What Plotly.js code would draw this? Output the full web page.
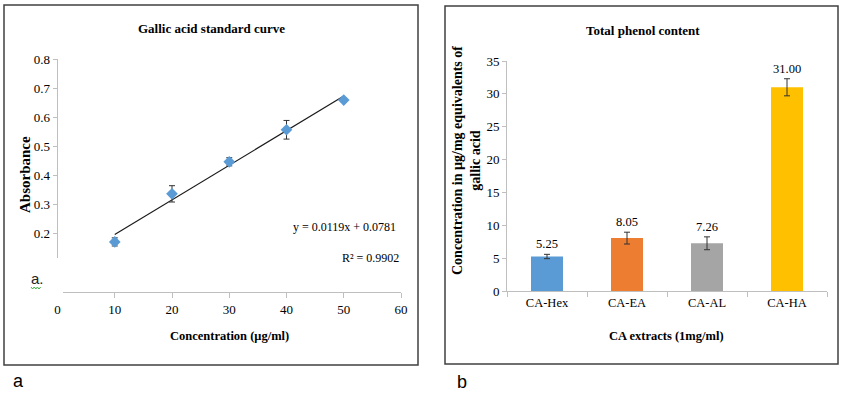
<!DOCTYPE html>
<html>
<head>
<meta charset="utf-8">
<script src="https://cdn.plot.ly/plotly-3.0.1.min.js"></script>
<style>html,body{margin:0;padding:0;background:#fff;}#chart{width:846px;height:396px;}</style>
</head>
<body>
<div id="chart"></div>
<script>
// ---- Data: panel a (Gallic acid standard curve) ----
const concentration = [10, 20, 30, 40, 50];
const absorbance = [0.172, 0.337, 0.447, 0.557, 0.659];
const absorbanceErr = [0.014, 0.028, 0.014, 0.032, 0.006];
const trendSlope = 0.0119;
const trendIntercept = 0.0781;
const trendX = [10, 50];
const equationText = "y = 0.0119x + 0.0781";
const r2Text = "R² = 0.9902";
const absTicks = [0.1, 0.2, 0.3, 0.4, 0.5, 0.6, 0.7, 0.8];

// ---- Data: panel b (Total phenol content) ----
const extracts = ["CA-Hex", "CA-EA", "CA-AL", "CA-HA"];
const phenol = [5.25, 8.05, 7.26, 31.00];
const phenolErr = [0.33, 0.9, 0.98, 1.3];
const barColors = ["#5B9BD5", "#ED7D31", "#A5A5A5", "#FFC000"];

const W = 846, H = 396;
const X = px => px / W;
const Y = py => 1 - py / H;

const serif = "Liberation Serif, Times New Roman, serif";
const sans = "Liberation Sans, Arial, sans-serif";
const axisGray = "#bfbfbf";

const traces = [
  {
    type: "scatter", mode: "lines", xaxis: "x", yaxis: "y",
    x: trendX, y: trendX.map(v => trendSlope * v + trendIntercept),
    line: {color: "#1a1a1a", width: 1.2}, hoverinfo: "skip", showlegend: false
  },
  {
    type: "scatter", mode: "markers", xaxis: "x", yaxis: "y",
    x: concentration, y: absorbance,
    marker: {symbol: "diamond", size: 9, color: "#5B9BD5"},
    error_y: {type: "data", array: absorbanceErr, visible: true, color: "#333", thickness: 1, width: 3},
    showlegend: false
  },
  {
    type: "bar", xaxis: "x2", yaxis: "y2",
    x: extracts, y: phenol, width: 0.4,
    marker: {color: barColors},
    error_y: {type: "data", array: phenolErr, visible: true, color: "#333", thickness: 1, width: 3},
    showlegend: false
  }
];

function pa(px, py, text, font, extra) {
  return Object.assign({xref: "paper", yref: "paper", x: X(px), y: Y(py), xanchor: "center", yanchor: "middle",
    text: text, showarrow: false, font: font}, extra || {});
}
const f = (size) => ({family: serif, size: size, color: "#000"});
const annotations = [
  pa(211, 28, "<b>Gallic acid standard curve</b>", f(13)),
  pa(229, 336, "<b>Concentration (μg/ml)</b>", f(12.5)),
  pa(25, 175, "<b>Absorbance</b>", f(15), {textangle: -90}),
  pa(344, 227, equationText, f(12)),
  pa(370, 258, r2Text, f(12)),
  pa(37, 278, "a.", {family: sans, size: 15, color: "#222"}),
  pa(643, 30, "<b>Total phenol content</b>", f(13)),
  pa(666, 336, "<b>CA extracts (1mg/ml)</b>", f(12.5)),
  pa(467, 160, "<b>Concentration in µg/mg equivalents of<br>gallic acid</b>", f(14), {textangle: -90}),
  pa(18, 381, "a", {family: sans, size: 18, color: "#000"}),
  pa(462, 382, "b", {family: sans, size: 18, color: "#000"})
];
extracts.forEach((c, i) => {
  annotations.push({
    xref: "x2", yref: "y2", x: c, y: phenol[i] + phenolErr[i], yshift: 10,
    xanchor: "center", yanchor: "middle",
    text: phenol[i].toFixed(2), showarrow: false,
    font: f(12.5)
  });
});

const sq = [];
for (let i = 0; i <= 6; i++) sq.push((i ? "L" : "M") + X(31 + i * 1.6) + "," + Y(i % 2 ? 289 : 287));

const shapes = [
  {type: "rect", xref: "paper", yref: "paper", x0: X(8), x1: X(63), y0: Y(258), y1: Y(298), fillcolor: "#fff", line: {width: 0}, layer: "above"},
  {type: "path", xref: "paper", yref: "paper", path: sq.join(" "), line: {color: "#3cb043", width: 1}, layer: "above"},
  {type: "rect", xref: "paper", yref: "paper", x0: X(4), x1: X(418), y0: Y(5), y1: Y(365), line: {color: "#404040", width: 1.5}, layer: "above"},
  {type: "rect", xref: "paper", yref: "paper", x0: X(445), x1: X(838), y0: Y(6), y1: Y(364), line: {color: "#404040", width: 1.5}, layer: "above"}
];

const tickFont = f(13);
const layout = {
  width: W, height: H,
  margin: {l: 0, r: 0, t: 0, b: 0},
  paper_bgcolor: "#fff", plot_bgcolor: "#fff",
  showlegend: false,
  xaxis: {
    domain: [X(57.5), X(401)], range: [0, 60], dtick: 10, tick0: 0,
    showgrid: false, zeroline: false, showline: true, linecolor: axisGray, linewidth: 1,
    ticks: "outside", ticklen: 5, tickcolor: axisGray, tickfont: tickFont, anchor: "y", fixedrange: true
  },
  yaxis: {
    domain: [Y(292), Y(59)], range: [0, 0.8], tickmode: "array", tickvals: absTicks,
    ticktext: absTicks.map(v => v.toFixed(1)),
    showgrid: false, zeroline: false, showline: true, linecolor: axisGray, linewidth: 1,
    ticks: "outside", ticklen: 4, tickcolor: axisGray, tickfont: tickFont, anchor: "x", fixedrange: true
  },
  xaxis2: {
    domain: [X(507), X(827)], type: "category",
    showgrid: false, zeroline: false, showline: true, linecolor: axisGray, linewidth: 1,
    ticks: "outside", ticklen: 5, tickcolor: axisGray, tickson: "boundaries", tickfont: f(12.5), anchor: "y2", fixedrange: true
  },
  yaxis2: {
    domain: [Y(291), Y(61)], range: [0, 35], dtick: 5, tick0: 0,
    showgrid: false, zeroline: false, showline: true, linecolor: axisGray, linewidth: 1,
    ticks: "outside", ticklen: 4, tickcolor: axisGray, tickfont: tickFont, anchor: "x2", fixedrange: true
  },
  annotations: annotations,
  shapes: shapes
};

Plotly.newPlot("chart", traces, layout, {displayModeBar: false, staticPlot: true});
</script>
</body>
</html>
